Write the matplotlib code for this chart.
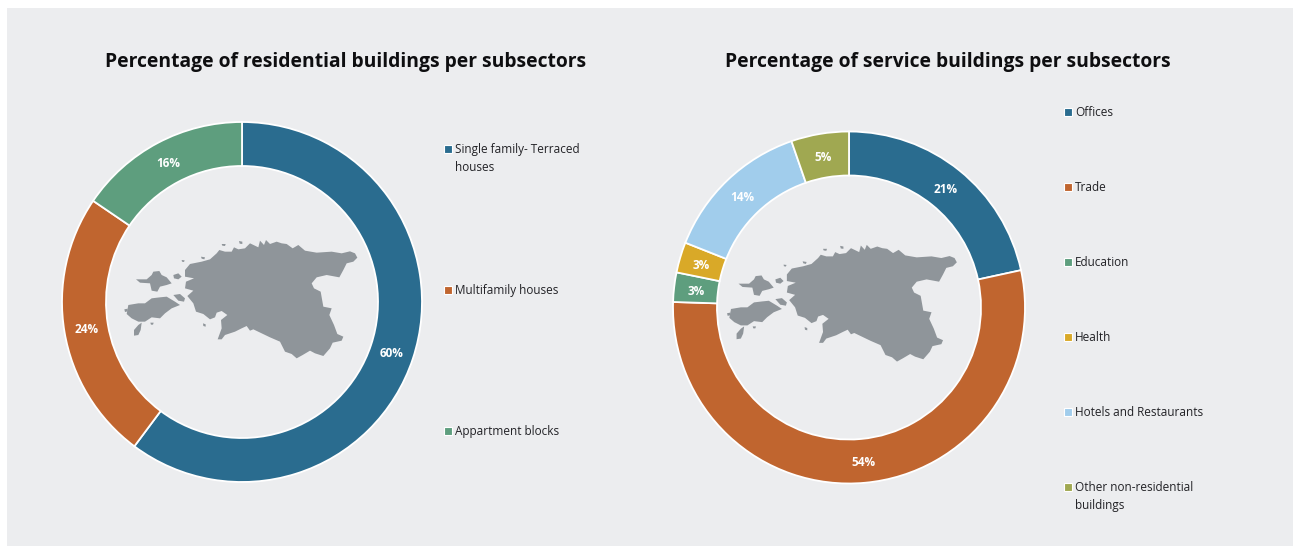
#!/usr/bin/env python3
"""Two donut charts of building subsectors with a map of Estonia in the hole."""

import numpy as np
import matplotlib

matplotlib.use("Agg")
import matplotlib.pyplot as plt
from matplotlib.patches import Polygon, Rectangle

W, H = 1293, 547
BG = "#ECEDEF"
MAP_GREY = "#8F959A"
BLUE, ORANGE, GREEN = "#2A6C8F", "#C0652F", "#5E9E7E"
GOLD, SKY, OLIVE = "#D9A928", "#A1CDEC", "#A0A851"

res_title = "Percentage of residential buildings per subsectors"
res_names = ["Single family- Terraced\nhouses", "Multifamily houses", "Appartment blocks"]
res_values = [60.2, 24.3, 15.5]
res_labels = ["60%", "24%", "16%"]
res_colors = [BLUE, ORANGE, GREEN]

srv_title = "Percentage of service buildings per subsectors"
srv_names = ["Offices", "Trade", "Education", "Health", "Hotels and Restaurants",
             "Other non-residential\nbuildings"]
srv_values = [21.6, 53.9, 2.7, 2.8, 13.7, 5.3]
srv_labels = ["21%", "54%", "3%", "3%", "14%", "5%"]
srv_colors = [BLUE, ORANGE, GREEN, GOLD, SKY, OLIVE]

# map outline, traced on a 780x450 crop of the left donut
mainland = [(225, 150), (240, 132), (275, 125), (300, 118), (320, 100), (328, 90), (345, 95),
            (365, 95), (372, 82), (385, 88), (405, 85), (420, 70), (445, 82), (450, 62),
            (462, 75), (468, 60), (480, 72), (500, 65), (515, 70), (530, 72), (548, 85),
            (565, 75), (585, 92), (620, 98), (665, 95), (695, 100), (720, 94), (735, 100),
            (742, 113), (730, 125), (710, 130), (700, 150), (688, 172), (650, 165),
            (620, 172), (605, 190), (612, 205), (632, 215), (640, 260), (665, 265),
            (658, 285), (672, 315), (682, 342), (700, 350), (695, 362), (668, 368),
            (660, 385), (640, 408), (615, 400), (600, 392), (578, 405), (560, 415),
            (545, 402), (525, 395), (510, 365), (480, 352), (455, 340), (430, 328),
            (420, 332), (410, 318), (395, 325), (375, 335), (345, 345), (335, 358),
            (323, 358), (335, 325), (333, 300), (352, 285), (335, 273), (320, 278),
            (315, 292), (300, 298), (280, 282), (258, 275), (250, 250), (232, 228),
            (250, 212), (225, 205), (228, 185), (252, 175), (225, 170)]
hiiumaa = [(78, 178), (110, 178), (125, 165), (130, 155), (148, 153), (155, 165), (170, 172),
           (185, 190), (170, 195), (150, 200), (142, 215), (125, 212), (120, 190), (90, 188)]
saaremaa = [(55, 255), (85, 250), (105, 250), (125, 235), (150, 232), (170, 230), (195, 245),
            (210, 255), (185, 265), (165, 280), (150, 295), (125, 292), (105, 305), (85, 305),
            (65, 295), (50, 282)]
sorve = [(95, 308), (92, 330), (85, 345), (72, 347), (72, 330), (85, 315)]
muhu = [(190, 225), (210, 222), (225, 235), (222, 245), (205, 242)]
vormsi = [(190, 165), (205, 160), (215, 170), (205, 178), (192, 175)]
islets = [[(335, 72), (347, 72), (345, 78), (337, 77)],
          [(387, 63), (397, 65), (397, 72), (389, 71)],
          [(273, 110), (285, 112), (283, 118), (275, 116)],
          [(215, 120), (224, 121), (222, 126), (216, 125)],
          [(279, 310), (287, 313), (287, 320), (280, 318)],
          [(121, 308), (131, 308), (129, 314), (123, 314)],
          [(43, 268), (53, 266), (53, 274), (45, 276)]]
map_parts = [mainland, hiiumaa, saaremaa, sorve, muhu, vormsi] + islets

plt.rcParams["font.family"] = ["Open Sans", "DejaVu Sans"]


def draw_map(ax, radius, dx, dy):
    for part in map_parts:
        pts = np.array(part, dtype=float)
        # crop px -> px relative to the left donut centre (242, 302), then to pie units
        x = (110 + pts[:, 0] / 3 - 242 + dx) / radius
        y = -(220 + pts[:, 1] / 3 - 302 + dy) / radius
        ax.add_patch(Polygon(np.column_stack([x, y]), closed=True, fc=MAP_GREY, ec="none"))


def draw_donut(cx, cy, radius, hole, values, labels, colors, map_scale, map_dx, map_dy, title, title_x):
    pad = 1.02
    size = 2 * radius * pad
    ax = fig.add_axes([(cx - size / 2) / W, 1 - (cy + size / 2) / H, size / W, size / H])
    wedges, _ = ax.pie(values, colors=colors, startangle=90, counterclock=False, radius=1,
                       wedgeprops={"width": 1 - hole, "edgecolor": "white", "linewidth": 1.3})
    ax.set_xlim(-pad, pad)
    ax.set_ylim(-pad, pad)
    ax.axis("off")
    for wedge, label in zip(wedges, labels):
        mid = np.deg2rad((wedge.theta1 + wedge.theta2) / 2)
        rr = (1 + hole) / 2
        # nudge down a little, the font sits high in its box
        ax.text(rr * np.cos(mid), rr * np.sin(mid) - 1.5 / radius, label, color="white",
                fontsize=8.5, fontweight="bold", ha="center", va="center")
    draw_map(ax, radius * map_scale, map_dx, map_dy)
    fig.text(title_x / W, 1 - 62.5 / H, title, fontsize=13.9, fontweight="bold", color="#0E0E10",
             ha="center", va="center")


def draw_key(x, y0, step, names, colors):
    for i, (name, color) in enumerate(zip(names, colors)):
        y = y0 + i * step
        fig.add_artist(Rectangle(((x - 4) / W, 1 - (y + 4) / H), 8 / W, 8 / H, fc=color, ec="white",
                                 lw=0.8, transform=fig.transFigure))
        fig.text((x + 7) / W, 1 - (y - 6) / H, name, fontsize=8.5, color="#222226", ha="left",
                 va="top", linespacing=1.5)


fig = plt.figure(figsize=(W / 100, H / 100), dpi=100, facecolor="white")
fig.add_artist(Rectangle((7 / W, 1 / H), 1 - 7 / W, 1 - 9 / H, fc=BG, ec="none",
                         transform=fig.transFigure, zorder=-5))

draw_donut(242, 302, 180, 136 / 180, res_values, res_labels, res_colors, 1, 0, 0, res_title, 345.5)
draw_donut(849, 307.5, 176, 132 / 176, srv_values, srv_labels, srv_colors, 1.014, -6, -1.5, srv_title, 948)
draw_key(448, 149, 141, res_names, res_colors)
draw_key(1068, 112, 75, srv_names, srv_colors)

fig.savefig("out.png", dpi=100, facecolor="white")
